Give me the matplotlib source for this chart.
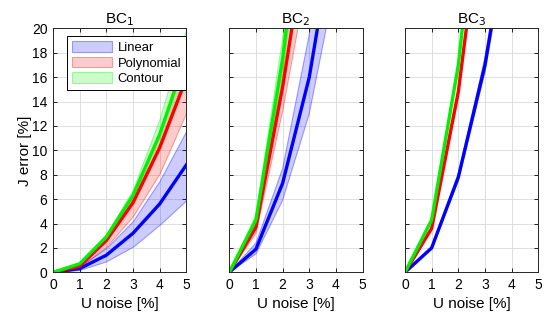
import matplotlib
matplotlib.use("Agg")
import matplotlib.pyplot as plt

plt.rcParams['font.family'] = ['Liberation Sans', 'DejaVu Sans']

u_noise = [0, 1, 2, 3, 4, 5]
titles = ["BC$_1$", "BC$_2$", "BC$_3$"]
methods = ["Linear", "Polynomial", "Contour"]

# BC1
bc1_lin = [0, 0.3, 1.4, 3.2, 5.6, 8.8]
bc1_lin_lo = [0, 0.2, 0.9, 2.1, 3.9, 5.9]
bc1_lin_hi = [0, 0.5, 2.0, 4.2, 7.5, 11.6]
bc1_poly = [0, 0.5, 2.6, 5.7, 10.2, 15.9]
bc1_poly_lo = [0, 0.4, 2.1, 4.6, 8.1, 13.1]
bc1_poly_hi = [0, 0.6, 2.8, 6.2, 11.3, 18.6]
bc1_cont = [0, 0.7, 2.9, 6.3, 11.3, 17.7]
bc1_cont_lo = [0, 0.6, 2.6, 5.8, 10.4, 15.9]
bc1_cont_hi = [0, 0.8, 3.1, 6.8, 12.6, 20.0]

# BC2
bc2_lin = [0, 1.9, 7.3, 16, 29, 45]
bc2_lin_lo = [0, 1.5, 5.9, 13, 24, 38]
bc2_lin_hi = [0, 2.4, 8.5, 19.5, 35, 52]
bc2_poly = [0, 3.7, 15.2, 29, 46, 66]
bc2_poly_lo = [0, 3.2, 13.2, 25, 40, 58]
bc2_poly_hi = [0, 4.1, 17, 33, 52, 76]
bc2_cont = [0, 4.3, 17.5, 36, 57, 80]
bc2_cont_lo = [0, 3.9, 16.2, 33, 52, 74]
bc2_cont_hi = [0, 4.7, 19.2, 40, 63, 88]

# BC3
bc3_lin = [0, 2.0, 7.8, 17, 30, 46]
bc3_lin_lo = [0, 1.9, 7.5, 16.4, 29, 44]
bc3_lin_hi = [0, 2.1, 8.1, 17.6, 31, 48]
bc3_poly = [0, 3.6, 14.8, 32, 52, 75]
bc3_poly_lo = [0, 3.5, 14.5, 31.4, 51, 74]
bc3_poly_hi = [0, 3.7, 15.1, 32.6, 53, 76]
bc3_cont = [0, 4.3, 17, 37, 60, 85]
bc3_cont_lo = [0, 4.2, 16.7, 36.4, 59, 84]
bc3_cont_hi = [0, 4.4, 17.3, 37.6, 61, 86]

panels = [
    [(bc1_lin, bc1_lin_lo, bc1_lin_hi), (bc1_poly, bc1_poly_lo, bc1_poly_hi), (bc1_cont, bc1_cont_lo, bc1_cont_hi)],
    [(bc2_lin, bc2_lin_lo, bc2_lin_hi), (bc2_poly, bc2_poly_lo, bc2_poly_hi), (bc2_cont, bc2_cont_lo, bc2_cont_hi)],
    [(bc3_lin, bc3_lin_lo, bc3_lin_hi), (bc3_poly, bc3_poly_lo, bc3_poly_hi), (bc3_cont, bc3_cont_lo, bc3_cont_hi)],
]

colors = [(0, 0, 1), (1, 0, 0), (0, 0.95, 0)]

fig = plt.figure(figsize=(5.44, 3.23), dpi=100)
lefts = [0.0974, 0.4215, 0.7445]

for k in range(3):
    ax = fig.add_axes([lefts[k], 0.157, 0.2450, 0.755])
    handles = []
    for m in range(3):
        mean, lo, hi = panels[k][m]
        c = colors[m]
        h = ax.fill_between(u_noise, lo, hi, facecolor=c + (0.2,),
                            edgecolor=c + (0.35,), linewidth=0.8, label=methods[m])
        handles.append(h)
        ax.plot(u_noise, mean, color=c, linewidth=2.4)
    ax.set_xlim(0, 5)
    ax.set_ylim(0, 20)
    ax.set_xticks(range(0, 6))
    ax.set_yticks(range(0, 21, 2))
    ax.grid(True, color=(0.85, 0.85, 0.85), linewidth=0.6)
    ax.set_axisbelow(True)
    ax.tick_params(direction='in', top=True, right=True, length=3,
                   labelsize=10, width=0.6, pad=4)
    for s in ax.spines.values():
        s.set_linewidth(0.7)
        s.set_color((0.15, 0.15, 0.15))
    ax.set_title(titles[k], fontsize=11, pad=4)
    ax.set_xlabel("U noise [%]", fontsize=11)
    if k == 0:
        ax.set_ylabel("J error [%]", fontsize=11, labelpad=0)
        leg = ax.legend(handles=handles, loc='upper left', bbox_to_anchor=(0.103, 0.968),
                        fontsize=9.4, handlelength=3.1, handleheight=0.85,
                        fancybox=False, framealpha=1, borderaxespad=0,
                        borderpad=0.4, labelspacing=0.2, handletextpad=0.4)
        leg.get_frame().set_edgecolor('black')
        leg.get_frame().set_linewidth(0.7)
    else:
        ax.set_yticklabels([])

fig.savefig("out.png", dpi=100)
